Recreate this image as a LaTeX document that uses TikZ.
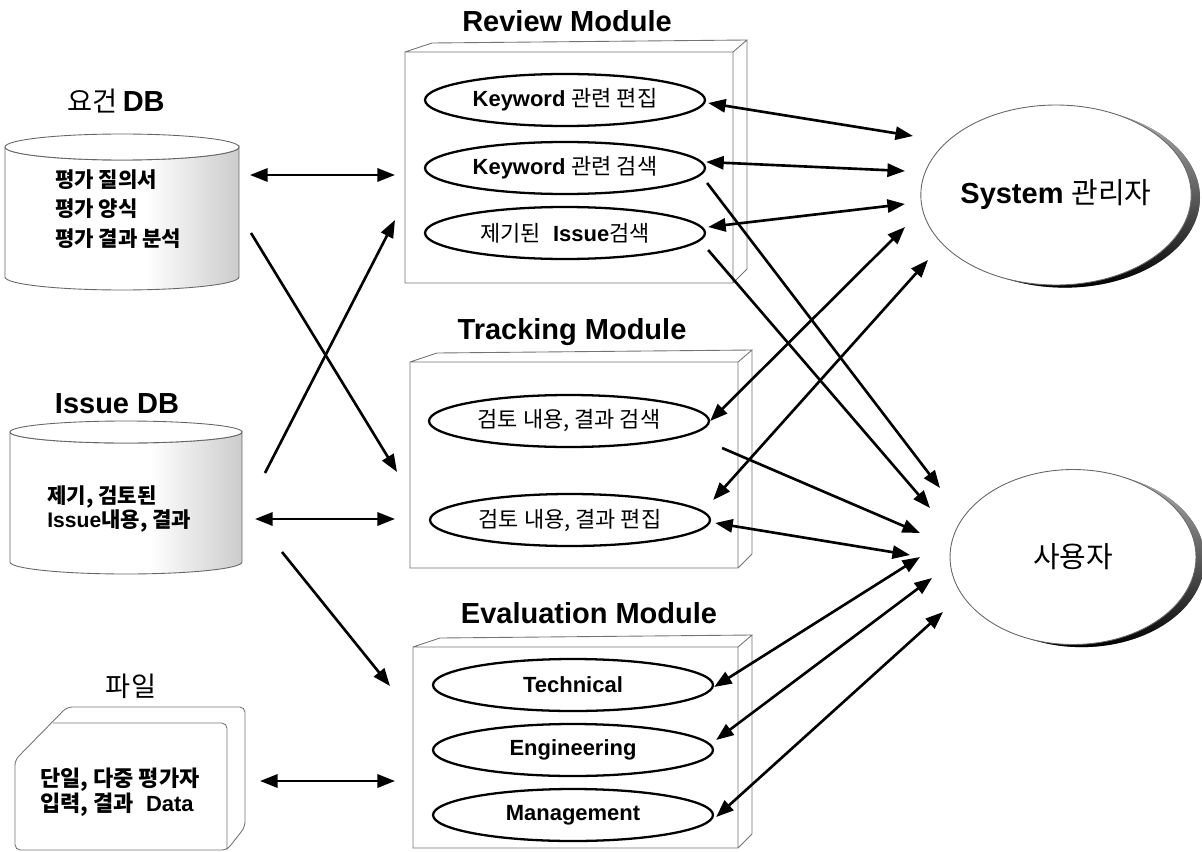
\documentclass[tikz,border=0pt]{standalone}
\usepackage{fontspec}
\setmainfont{Liberation Sans}
\newfontfamily\kr{Noto Sans CJK KR}
\usetikzlibrary{arrows.meta,shapes.geometric,shadows}

% grey side of the database drums
\pgfdeclarehorizontalshading{dbside}{100bp}{color(0bp)=(white); color(55bp)=(white); color(100bp)=(black!45)}

\begin{document}
\begin{tikzpicture}
[
x=0.02cm, y=-0.02cm,
every node/.style={inner sep=0pt},
modtitle/.style={anchor=base, font=\fontsize{16.5}{20}\selectfont\bfseries},
modframe/.style={draw=black!55, line width=0.5pt},
task/.style={ellipse, draw, line width=1.3pt, minimum width=5.6cm, minimum height=1.04cm, font=\fontsize{12.5}{15}\selectfont},
actor/.style={ellipse, draw=black!60, line width=0.5pt, fill=white, font=\fontsize{16.5}{20}\selectfont,
  drop shadow={shadow xshift=5pt, shadow yshift=-1.5pt, opacity=1, top color=black!30, bottom color=black}},
link/.style={line width=1.5pt, -{Triangle[length=10pt,width=7.5pt]}},
twoway/.style={line width=1.5pt, {Triangle[length=10pt,width=7.5pt]}-{Triangle[length=10pt,width=7.5pt]}}
]
\useasboundingbox (0,0) rectangle (1202,851);

% databases
\shade[shading=dbside, draw=black!60, line width=0.5pt] (5,147) -- (5,277)
  arc[start angle=180, end angle=360, x radius=2.34cm, y radius=0.26cm] -- (239,147)
  arc[start angle=360, end angle=180, x radius=2.34cm, y radius=0.26cm] -- cycle;
\draw[black!60, line width=0.5pt, fill=white] (122,147) ellipse [x radius=2.34cm, y radius=0.26cm];
\shade[shading=dbside, draw=black!60, line width=0.5pt] (10,432) -- (10,562)
  arc[start angle=180, end angle=360, x radius=2.32cm, y radius=0.24cm] -- (242,432)
  arc[start angle=360, end angle=180, x radius=2.32cm, y radius=0.22cm] -- cycle;
\draw[black!60, line width=0.5pt, fill=white] (126,432) ellipse [x radius=2.32cm, y radius=0.22cm];

% file
\draw[modframe, rounded corners=3pt] (15,850) -- (15,760) -- (67,707) -- (245,707) -- (245,827) -- (227,850) -- cycle;
\draw[modframe, rounded corners=3pt] (53,723) -- (227,723) -- (227,850);

% module boxes
\foreach \l/\t/\r/\b in {405/52/733/283, 410/362/738/568, 413/647/738/848}
  \draw[modframe] (\l,\t) rectangle (\r,\b)
    (\l,\t) -- ++(27,-9) -- (\r+14,\t-12) -- (\r,\t)
    (\r+14,\t-12) -- (\r+14,\b-14) -- (\r,\b);

\node[modtitle] (reqtitle) at (116,112) {{\kr\mdseries\fontsize{15.5}{18}\selectfont 요건}\kern3pt DB};
\node[modtitle] (issuetitle) at (117,413) {Issue DB};
\node[modtitle, font=\kr\fontsize{15.5}{18}\selectfont] (filetitle) at (131,696) {파일};
\node[modtitle] (revtitle) at (567,32) {Review Module};
\node[modtitle] (trtitle) at (572,339) {Tracking Module};
\node[modtitle] (evtitle) at (589,623) {Evaluation Module};

\node[anchor=west, align=left, font=\kr\bfseries\fontsize{12}{17}\selectfont] (reqtext) at (55,209) {평가 질의서\\평가 양식\\평가 결과 분석};
\node[anchor=west, align=left, font=\bfseries\fontsize{12}{14}\selectfont] (issuetext) at (47,509) {{\kr 제기, 검토된}\\Issue{\kr 내용, 결과}};
\node[anchor=west, align=left, font=\bfseries\fontsize{12.5}{14}\selectfont] (filetext) at (40,792) {{\kr 단일, 다중 평가자}\\{\kr 입력, 결과}~~Data};

\node[task] (kwedit) at (565,100) {\textbf{Keyword} {\kr 관련 편집}};
\node[task] (kwsearch) at (565,168) {\textbf{Keyword} {\kr 관련 검색}};
\node[task] (issuesearch) at (565,233) {{\kr 제기된}~~\textbf{Issue}{\kr 검색}};
\node[task] (trsearch) at (569,421) {\kr 검토 내용, 결과 검색};
\node[task] (tredit) at (570,520) {\kr 검토 내용, 결과 편집};
\node[task] (tech) at (573,685) {\textbf{Technical}};
\node[task] (eng) at (573,750) {\textbf{Engineering}};
\node[task] (mgmt) at (573,815) {\textbf{Management}};

\node[actor, minimum width=4.96cm, minimum height=3.6cm] (sysadm) at (1056,195) {\textbf{System} {\kr 관리자}};
\node[actor, minimum width=4.92cm, minimum height=3.5cm] (user) at (1073,557) {\kr 사용자};

% free ends on the left
\coordinate (reqR) at (250,175);   \coordinate (revL) at (395,175);
\coordinate (reqlow) at (251,233); \coordinate (trin) at (397,472);
\coordinate (issueup) at (265,473); \coordinate (revin) at (395,220);
\coordinate (issueR) at (255,519); \coordinate (trL) at (395,519);
\coordinate (issuelow) at (282,552); \coordinate (evin) at (390,686);
\coordinate (fileR) at (260,781); \coordinate (evL) at (395,781);

% free ends near the actors
\coordinate (s1) at (913,136); \coordinate (s2) at (905,171); \coordinate (s3) at (905,204);
\coordinate (s4) at (905,227); \coordinate (s5) at (928,260);
\coordinate (u1) at (940,488); \coordinate (u2) at (930,508); \coordinate (u3) at (920,533);
\coordinate (u4) at (910,555); \coordinate (u5) at (920,557); \coordinate (u6) at (932,578);
\coordinate (u7) at (943,612);

\draw[twoway] (reqR) -- (revL);
\draw[link] (reqlow) -- (trin);
\draw[link] (issueup) -- (revin);
\draw[twoway] (issueR) -- (trL);
\draw[link] (issuelow) -- (evin);
\draw[twoway] (fileR) -- (evL);

\draw[twoway] ([shift={(2,3)}]kwedit.east) -- (s1);
\draw[twoway] ([shift={(0,-6)}]kwsearch.east) -- (s2);
\draw[twoway] ([shift={(2,-6)}]issuesearch.east) -- (s3);
\draw[twoway] (trsearch.east) -- (s4);
\draw[twoway] ([shift={(2,-20)}]tredit.east) -- (s5);

\draw[link] ([shift={(1,15)}]kwsearch.east) -- (u1);
\draw[link] ([shift={(2,17)}]issuesearch.east) -- (u2);
\draw[link] ([shift={(12,27)}]trsearch.east) -- (u3);
\draw[twoway] ([shift={(4,3)}]tredit.east) -- (u4);
\draw[twoway] ([shift={(0,2)}]tech.east) -- (u5);
\draw[twoway] ([shift={(2,-10)}]eng.east) -- (u6);
\draw[twoway] ([shift={(2,2)}]mgmt.east) -- (u7);
\end{tikzpicture}
\end{document}
